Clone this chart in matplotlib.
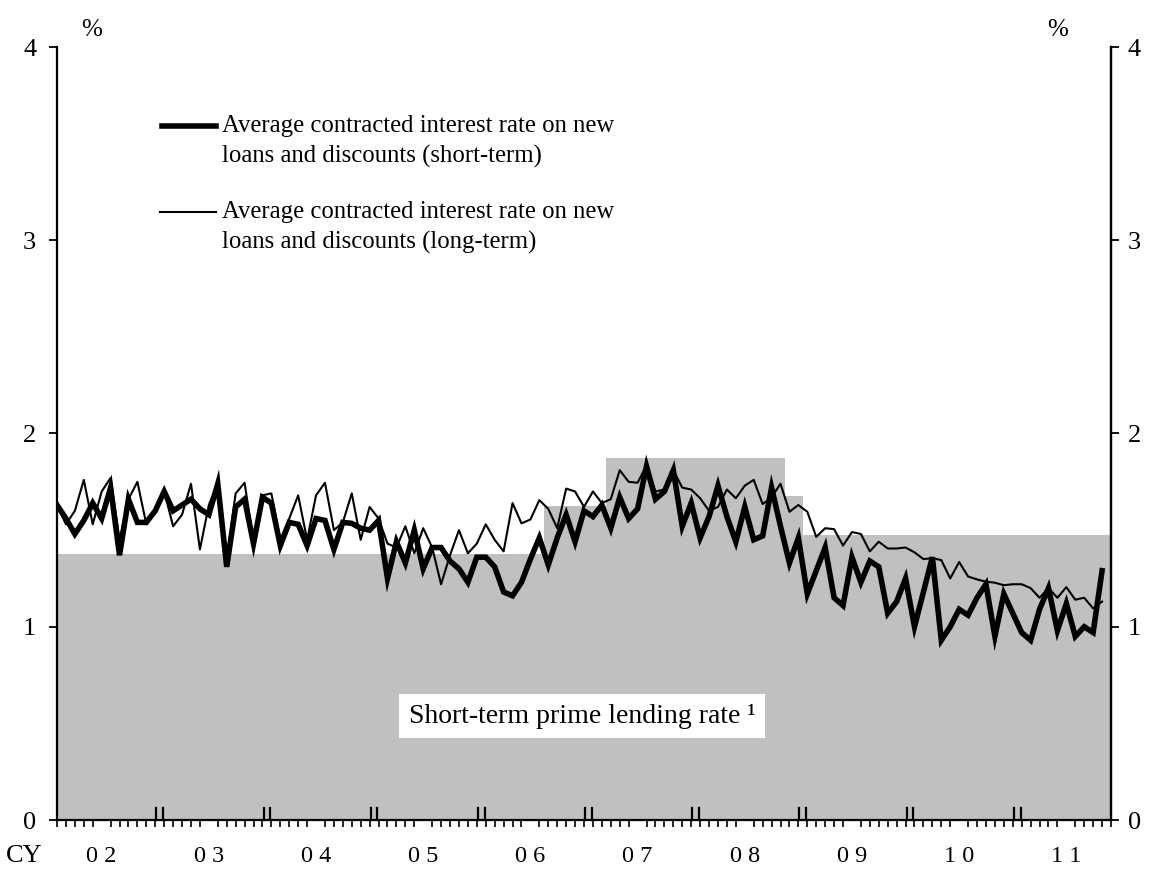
import numpy as np
import matplotlib
matplotlib.use("Agg")
import matplotlib.pyplot as plt
import matplotlib.transforms as mtransforms

plt.rcParams['font.family'] = ['Liberation Serif', 'DejaVu Serif']

# ---- data (monthly, Jan 2002 onward) ----
short_term = [
    1.63, 1.56, 1.48, 1.55, 1.64, 1.56, 1.72, 1.37, 1.66, 1.54, 1.54, 1.60,   # 2002
    1.70, 1.60, 1.63, 1.66, 1.61, 1.58, 1.74, 1.31, 1.62, 1.66, 1.43, 1.67,   # 2003
    1.64, 1.42, 1.54, 1.53, 1.42, 1.56, 1.55, 1.40, 1.54, 1.535, 1.51, 1.50,  # 2004
    1.55, 1.25, 1.44, 1.33, 1.50, 1.30, 1.41, 1.41, 1.34, 1.30, 1.23, 1.36,   # 2005
    1.36, 1.31, 1.18, 1.16, 1.23, 1.35, 1.46, 1.32, 1.46, 1.58, 1.44, 1.60,   # 2006
    1.57, 1.63, 1.51, 1.67, 1.56, 1.61, 1.83, 1.66, 1.70, 1.81, 1.52, 1.64,   # 2007
    1.46, 1.57, 1.73, 1.57, 1.44, 1.62, 1.45, 1.47, 1.72, 1.52, 1.33, 1.46,   # 2008
    1.17, 1.29, 1.41, 1.15, 1.11, 1.36, 1.23, 1.34, 1.31, 1.07, 1.13, 1.25,   # 2009
    1.00, 1.18, 1.36, 0.93, 1.00, 1.09, 1.06, 1.15, 1.22, 0.95, 1.17, 1.07,   # 2010
    0.97, 0.93, 1.09, 1.20, 0.98, 1.12, 0.95, 1.00, 0.97, 1.29,               # 2011
]
long_term = [
    1.63, 1.53, 1.60, 1.76, 1.53, 1.70, 1.77, 1.45, 1.66, 1.75, 1.53, 1.61,   # 2002
    1.70, 1.52, 1.58, 1.74, 1.40, 1.63, 1.74, 1.35, 1.69, 1.745, 1.44, 1.68,  # 2003
    1.69, 1.45, 1.56, 1.68, 1.45, 1.68, 1.745, 1.50, 1.54, 1.69, 1.45, 1.62,  # 2004
    1.56, 1.43, 1.41, 1.52, 1.38, 1.51, 1.41, 1.22, 1.37, 1.50, 1.38, 1.43,   # 2005
    1.53, 1.45, 1.39, 1.64, 1.535, 1.555, 1.655, 1.61, 1.51, 1.715, 1.70, 1.62,  # 2006
    1.70, 1.64, 1.66, 1.81, 1.75, 1.745, 1.835, 1.70, 1.71, 1.81, 1.72, 1.71,  # 2007
    1.665, 1.60, 1.62, 1.71, 1.665, 1.73, 1.76, 1.635, 1.67, 1.74, 1.595, 1.63,  # 2008
    1.595, 1.465, 1.51, 1.505, 1.42, 1.49, 1.48, 1.39, 1.44, 1.405, 1.405, 1.41,  # 2009
    1.385, 1.35, 1.355, 1.345, 1.25, 1.335, 1.26, 1.245, 1.233, 1.228, 1.215, 1.22,  # 2010
    1.22, 1.20, 1.15, 1.20, 1.15, 1.205, 1.14, 1.15, 1.095, 1.13,             # 2011
]
# short-term prime lending rate, one value per month (Jan 2002 - Nov 2011)
prime_levels = [1.375, 1.625, 1.875, 1.675, 1.475]
prime_months = [55, 7, 20, 2, 35]
prime = np.repeat(prime_levels, prime_months)

year_labels = ["0 2", "0 3", "0 4", "0 5", "0 6", "0 7", "0 8", "0 9", "1 0", "1 1"]
legend_short = ["Average contracted interest rate on new", "loans and discounts (short-term)"]
legend_long = ["Average contracted interest rate on new", "loans and discounts (long-term)"]
box_label = "Short-term prime lending rate \u00b9"

x_loans = np.arange(len(short_term))
x_prime = np.arange(len(prime))

fig = plt.figure(figsize=(11.53, 8.72), dpi=100)
ax = fig.add_axes([57/1153, 52/872, 1054/1153, 773/872])

ax.bar(x_prime, prime, width=1.0, color='#c0c0c0', linewidth=0, zorder=1)
ax.plot(x_loans, long_term, color='black', lw=1.5, zorder=3)
ax.plot(x_loans, short_term, color='black', lw=4.0, zorder=4, solid_joinstyle='miter')

ax.set_xlim(0, 117.85)
ax.set_ylim(0, 4)

ax.spines['top'].set_visible(False)
for s in ['left', 'right', 'bottom']:
    ax.spines[s].set_linewidth(1.6)

ax.set_yticks([0, 1, 2, 3, 4])
ax.tick_params(axis='y', which='major', direction='out', length=6, width=1.3,
               labelsize=19, left=True, right=False, labelleft=True, labelright=False, pad=9)

# right-hand scale (same values)
axr = ax.twinx()
axr.set_ylim(0, 4)
axr.set_yticks([0, 1, 2, 3, 4])
axr.tick_params(axis='y', direction='out', length=6, width=1.3, labelsize=19, pad=6)
for s in ['top', 'left', 'bottom']:
    axr.spines[s].set_visible(False)
axr.spines['right'].set_linewidth(1.6)

# x axis: month ticks below, year labels
ax.set_xticks(np.arange(0, 119), minor=True)
ax.set_xticks(np.arange(10) * 12 + 5)
ax.set_xticklabels(year_labels)
ax.tick_params(axis='x', which='minor', direction='out', length=5, width=1.2)
ax.tick_params(axis='x', which='major', length=0, labelsize=17.5, pad=19)

# year boundary double ticks
trans = mtransforms.blended_transform_factory(ax.transData, ax.transAxes)
for k in range(1, 10):
    b = 12 * k - 0.5
    for dx in (-0.38, 0.38):
        ax.plot([b + dx, b + dx], [0, 0.015], color='black', lw=1.6,
                transform=trans, clip_on=False, zorder=5)

# legend drawn manually
fs_leg = 17.8
ax.plot([0.0996, 0.151], [0.898, 0.898], color='black', lw=4.0, transform=ax.transAxes, zorder=6)
ax.plot([0.0975, 0.151], [0.7866, 0.7866], color='black', lw=1.5, transform=ax.transAxes, zorder=6)
ax.text(0.1565, 0.898, legend_short[0], transform=ax.transAxes, fontsize=fs_leg, va='center', ha='left')
ax.text(0.1565, 0.858, legend_short[1], transform=ax.transAxes, fontsize=fs_leg, va='center', ha='left')
ax.text(0.1565, 0.7866, legend_long[0], transform=ax.transAxes, fontsize=fs_leg, va='center', ha='left')
ax.text(0.1565, 0.7466, legend_long[1], transform=ax.transAxes, fontsize=fs_leg, va='center', ha='left')

ax.text(0.498, 0.1345, box_label, transform=ax.transAxes, fontsize=20, ha='center', va='center',
        bbox=dict(boxstyle='square,pad=0.35', facecolor='white', edgecolor='none'), zorder=7)

fig.text(92/1153, 1 - 30/872, "%", fontsize=18, ha='center', va='center')
fig.text(1058/1153, 1 - 30/872, "%", fontsize=18, ha='center', va='center')
fig.text(24/1153, 1 - 856/872, "CY", fontsize=19, ha='center', va='center')

fig.savefig("out.png", dpi=100)
